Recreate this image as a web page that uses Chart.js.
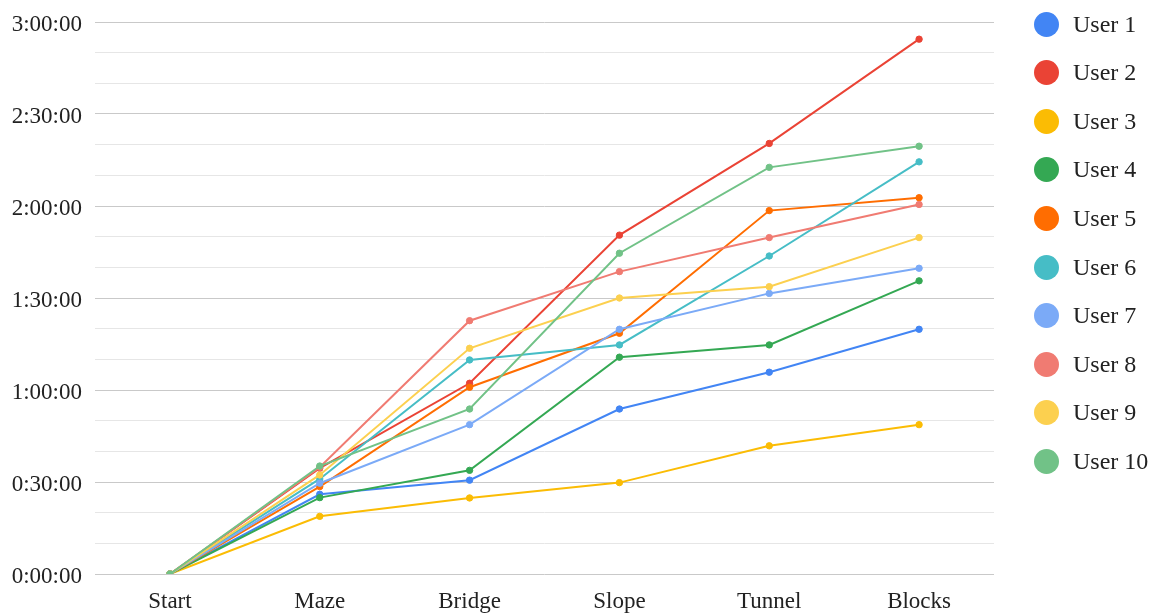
<!DOCTYPE html>
<html>
<head>
<meta charset="utf-8">
<script src="https://cdn.jsdelivr.net/npm/chart.js@4/dist/chart.umd.min.js"></script>
<style>
  html, body { margin: 0; padding: 0; background: #ffffff; }
  #wrap { position: relative; width: 1158px; height: 615px; }
  #legend { position: absolute; left: 1034px; top: 0; font-family: "Liberation Serif", "Times New Roman", serif; color: #222; }
  #legend .item { position: absolute; left: 0; height: 26px; display: flex; align-items: center; white-space: nowrap; font-size: 24px; }
  #legend .dot { width: 25px; height: 25px; border-radius: 50%; margin-right: 14px; flex: none; }
</style>
</head>
<body>
<div id="wrap">
  <canvas id="chart" width="1158" height="615"></canvas>
  <div id="legend"></div>
</div>
<script>
// Stages of the course
const stages = ['Start', 'Maze', 'Bridge', 'Slope', 'Tunnel', 'Blocks'];

// Cumulative elapsed time per stage, in minutes
const user1  = [0, 26.0, 30.6, 53.8, 65.8, 79.8];
const user2  = [0, 34.5, 62.2, 110.5, 140.4, 174.4];
const user3  = [0, 18.8, 24.8, 29.8, 41.8, 48.7];
const user4  = [0, 24.9, 33.8, 70.7, 74.7, 95.6];
const user5  = [0, 28.5, 60.9, 78.5, 118.5, 122.7];
const user6  = [0, 31.0, 69.8, 74.7, 103.7, 134.4];
const user7  = [0, 29.6, 48.7, 79.8, 91.5, 99.7];
const user8  = [0, 34.8, 82.6, 98.6, 109.7, 120.5];
const user9  = [0, 32.3, 73.6, 90.0, 93.7, 109.7];
const user10 = [0, 35.2, 53.8, 104.6, 132.6, 139.5];

const seriesNames = ['User 1', 'User 2', 'User 3', 'User 4', 'User 5', 'User 6', 'User 7', 'User 8', 'User 9', 'User 10'];
const seriesValues = [user1, user2, user3, user4, user5, user6, user7, user8, user9, user10];
const seriesColors = ['#4285F4', '#EA4335', '#FBBC04', '#34A853', '#FF6D01', '#46BDC6', '#7BAAF7', '#F07B72', '#FCD04F', '#71C287'];

// Y axis: 0 to 3 hours, gridline every 10 minutes, label every 30 minutes
const yMax = 180;
const yStep = 10;
const yLabelEvery = 30;

function formatMinutes(m) {
  const h = Math.floor(m / 60);
  const mm = Math.round(m % 60);
  return h + ':' + String(mm).padStart(2, '0') + ':00';
}

const axisFont = { family: '"Liberation Serif", "Times New Roman", serif', size: 23 };

const datasets = seriesNames.map((name, i) => ({
  label: name,
  data: seriesValues[i],
  borderColor: seriesColors[i],
  backgroundColor: seriesColors[i],
  pointBackgroundColor: seriesColors[i],
  pointBorderColor: seriesColors[i],
  borderWidth: 2,
  pointRadius: 3.2,
  pointBorderWidth: 1,
  tension: 0,
  order: seriesNames.length - 1 - i
}));

// Legend rendered as HTML beside the canvas
const htmlLegend = {
  id: 'htmlLegend',
  afterUpdate(chart) {
    const box = document.getElementById('legend');
    box.innerHTML = '';
    chart.data.datasets.forEach((ds, i) => {
      const item = document.createElement('div');
      item.className = 'item';
      item.style.top = (11 + i * 48.6) + 'px';
      const dot = document.createElement('span');
      dot.className = 'dot';
      dot.style.background = ds.borderColor;
      const txt = document.createElement('span');
      txt.textContent = ds.label;
      item.appendChild(dot);
      item.appendChild(txt);
      box.appendChild(item);
    });
  }
};

new Chart(document.getElementById('chart'), {
  type: 'line',
  data: { labels: stages, datasets },
  plugins: [htmlLegend],
  options: {
    responsive: false,
    animation: false,
    layout: { padding: { left: 10, right: 164, top: 22, bottom: 1 } },
    plugins: {
      legend: { display: false },
      tooltip: { enabled: false }
    },
    scales: {
      x: {
        offset: true,
        grid: { display: false, drawTicks: false },
        border: { display: false },
        ticks: { color: '#222', font: axisFont, padding: 14, maxRotation: 0 },
        afterFit(scale) { scale.height = 40; }
      },
      y: {
        min: 0,
        max: yMax,
        grid: {
          drawTicks: false,
          color: (ctx) => (ctx.tick && ctx.tick.value % yLabelEvery === 0) ? '#c9c9c9' : '#e6e6e6',
          lineWidth: 1
        },
        border: { display: false },
        ticks: {
          stepSize: yStep,
          color: '#222',
          font: axisFont,
          padding: 13,
          labelOffset: 3,
          autoSkip: false,
          callback: (v) => (v % yLabelEvery === 0) ? formatMinutes(v) : ''
        },
        afterFit(scale) {
          scale.width = 85;
          scale.paddingTop = 0;
          scale.paddingBottom = 0;
        }
      }
    }
  }
});
</script>
</body>
</html>
